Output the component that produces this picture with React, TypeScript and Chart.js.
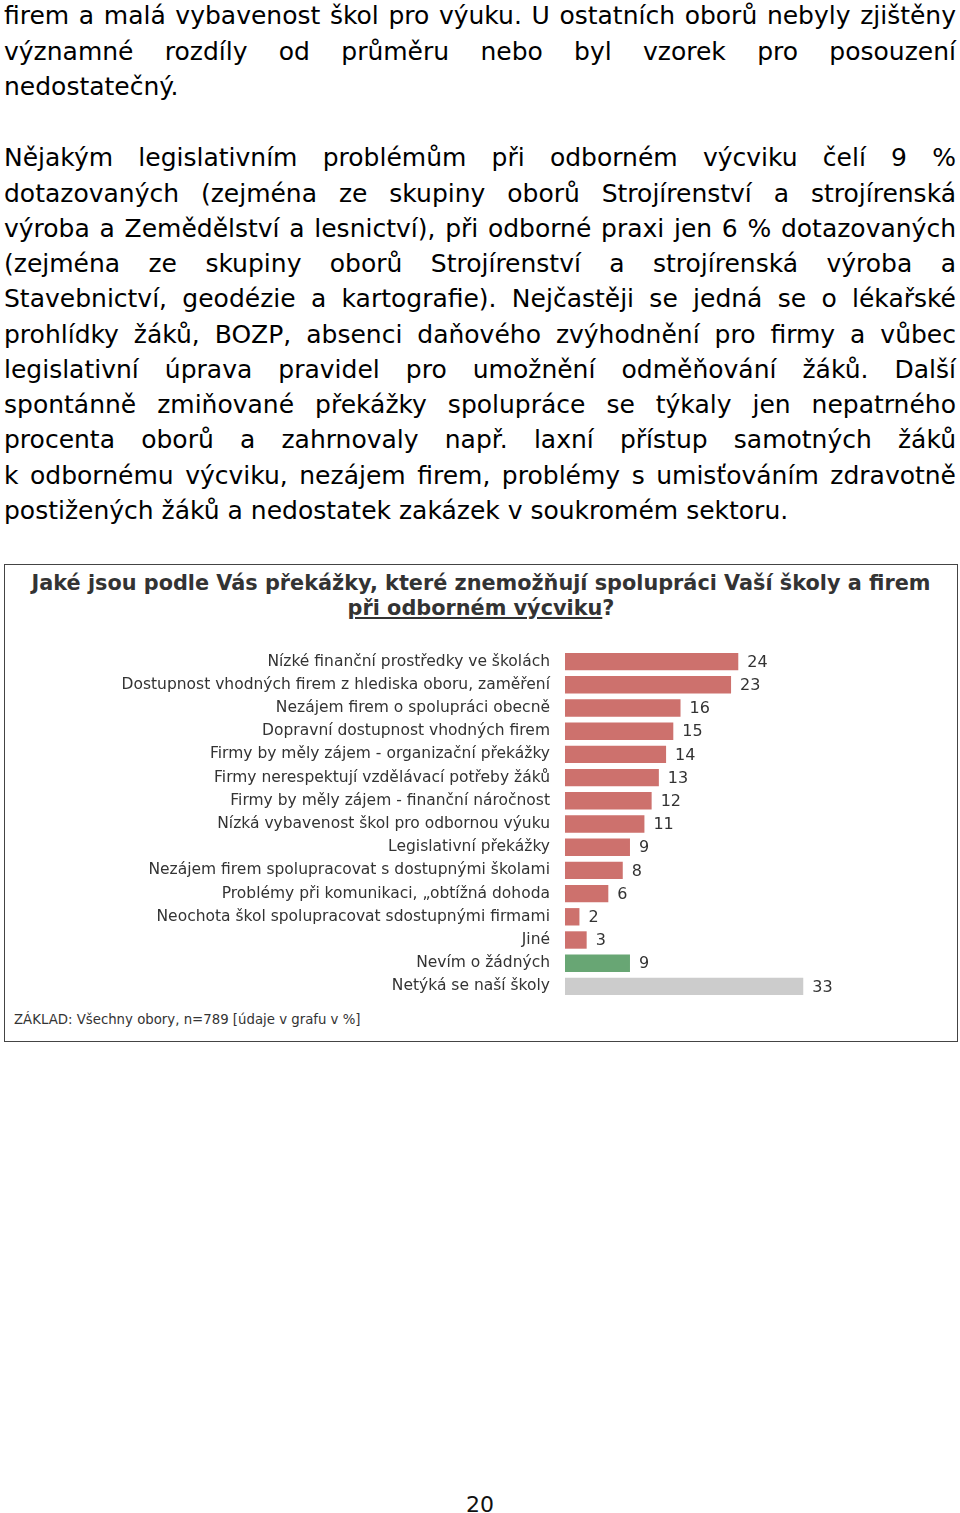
import React, { useEffect, useRef } from "react";
import { Chart, registerables } from "chart.js";

Chart.register(...registerables);

const categories: string[] = [
  "Nízké finanční prostředky ve školách",
  "Dostupnost vhodných firem z hlediska oboru, zaměření",
  "Nezájem firem o spolupráci obecně",
  "Dopravní dostupnost vhodných firem",
  "Firmy by měly zájem - organizační překážky",
  "Firmy nerespektují vzdělávací potřeby žáků",
  "Firmy by měly zájem - finanční náročnost",
  "Nízká vybavenost škol pro odbornou výuku",
  "Legislativní překážky",
  "Nezájem firem spolupracovat s dostupnými školami",
  "Problémy při komunikaci, „obtížná dohoda",
  "Neochota škol spolupracovat sdostupnými firmami",
  "Jiné",
  "Nevím o žádných",
  "Netýká se naší školy",
];

const values: number[] = [24, 23, 16, 15, 14, 13, 12, 11, 9, 8, 6, 2, 3, 9, 33];

const barKinds: string[] = [
  "red", "red", "red", "red", "red", "red", "red", "red",
  "red", "red", "red", "red", "red", "green", "grey",
];

const kindColors: Record<string, string> = {
  red: "#CD716D",
  green: "#68A674",
  grey: "#CCCCCC",
};

const introLines: string[] = [
  "firem a malá vybavenost škol pro výuku. U ostatních oborů nebyly zjištěny",
  "významné rozdíly od průměru nebo byl vzorek pro posouzení",
  "nedostatečný.",
];

const paragraphLines: string[] = [
  "Nějakým legislativním problémům při odborném výcviku čelí 9 %",
  "dotazovaných (zejména ze skupiny oborů Strojírenství a strojírenská",
  "výroba a Zemědělství a lesnictví), při odborné praxi jen 6 % dotazovaných",
  "(zejména ze skupiny oborů Strojírenství a strojírenská výroba a",
  "Stavebnictví, geodézie a kartografie). Nejčastěji se jedná se o lékařské",
  "prohlídky žáků, BOZP, absenci daňového zvýhodnění pro firmy a vůbec",
  "legislativní úprava pravidel pro umožnění odměňování žáků. Další",
  "spontánně zmiňované překážky spolupráce se týkaly jen nepatrného",
  "procenta oborů a zahrnovaly např. laxní přístup samotných žáků",
  "k odbornému výcviku, nezájem firem, problémy s umisťováním zdravotně",
  "postižených žáků a nedostatek zakázek v soukromém sektoru.",
];

const FONT = "'DejaVu Sans', Verdana, sans-serif";

const valueLabelPlugin = {
  id: "valueLabels",
  afterDatasetsDraw(chart: any) {
    const ctx = chart.ctx;
    const meta = chart.getDatasetMeta(0);
    ctx.save();
    ctx.font = `16px ${FONT}`;
    ctx.fillStyle = "#333333";
    ctx.textAlign = "left";
    ctx.textBaseline = "middle";
    meta.data.forEach((bar: any, i: number) => {
      ctx.fillText(String(values[i]), bar.x + 9, bar.y + 1);
    });
    ctx.restore();
  },
};

function BarChart() {
  const ref = useRef<HTMLCanvasElement | null>(null);
  useEffect(() => {
    if (!ref.current) return;
    const chart = new Chart(ref.current, {
      type: "bar",
      data: {
        labels: categories,
        datasets: [
          {
            data: values,
            backgroundColor: barKinds.map((k) => kindColors[k]),
            borderWidth: 0,
            barPercentage: 0.75,
            categoryPercentage: 1,
          },
        ],
      },
      options: {
        indexAxis: "y",
        animation: false,
        responsive: false,
        maintainAspectRatio: false,
        layout: { padding: 0 },
        plugins: {
          legend: { display: false },
          tooltip: { enabled: false },
        },
        scales: {
          x: {
            display: false,
            min: 0,
            max: 50,
          },
          y: {
            grid: { display: false, drawTicks: false },
            border: { display: false },
            ticks: {
              color: "#333333",
              font: { family: FONT, size: 15.5 },
              padding: 15,
              autoSkip: false,
            },
            afterFit: (s: any) => {
              s.width = 555;
              s.paddingTop = 0;
              s.paddingBottom = 0;
            },
          },
        },
      },
      plugins: [valueLabelPlugin],
    });
    return () => chart.destroy();
  }, []);
  return (
    <canvas
      ref={ref}
      width={916}
      height={348}
      style={{ position: "absolute", left: 10, top: 650, width: 916, height: 348 }}
    />
  );
}

const LH = 35.25;

function TextLine({ text, top, last }: { text: string; top: number; last: boolean }) {
  return (
    <div
      style={{
        position: "absolute",
        left: 4,
        width: 952,
        top,
        height: LH,
        lineHeight: `${LH}px`,
        fontFamily: FONT,
        fontSize: 25,
        color: "#000",
        whiteSpace: "nowrap",
        textAlign: "justify",
        textAlignLast: last ? "left" : "justify",
      }}
    >
      {text}
    </div>
  );
}

export default function App() {
  const firstTop = 16 - LH / 2;
  const paraTop = 158 - LH / 2;
  return (
    <div style={{ position: "absolute", left: 0, top: 0, width: 960, height: 1513, background: "#fff", overflow: "hidden" }}>
      {introLines.map((t, i) => (
        <TextLine key={"a" + i} text={t} top={firstTop + i * LH} last={i === introLines.length - 1} />
      ))}
      {paragraphLines.map((t, i) => (
        <TextLine key={"b" + i} text={t} top={paraTop + i * LH} last={i === paragraphLines.length - 1} />
      ))}
      <div
        style={{
          position: "absolute",
          left: 4,
          top: 564,
          width: 954,
          height: 478,
          border: "1.5px solid #444",
          boxSizing: "border-box",
        }}
      />
      <div
        style={{
          position: "absolute",
          left: 4,
          width: 954,
          top: 571,
          textAlign: "center",
          fontFamily: FONT,
          fontWeight: "bold",
          fontSize: 20.8,
          lineHeight: "25px",
          color: "#333",
        }}
      >
        Jaké jsou podle Vás překážky, které znemožňují spolupráci Vaší školy a firem
        <br />
        <span style={{ textDecoration: "underline" }}>při odborném výcviku</span>?
      </div>
      <BarChart />
      <div
        style={{
          position: "absolute",
          left: 14,
          top: 1012,
          fontFamily: FONT,
          fontSize: 13.3,
          color: "#333",
        }}
      >
        ZÁKLAD: Všechny obory, n=789 [údaje v grafu v %]
      </div>
      <div
        style={{
          position: "absolute",
          left: 0,
          width: 960,
          top: 1492,
          textAlign: "center",
          fontFamily: FONT,
          fontSize: 22,
          color: "#111",
        }}
      >
        20
      </div>
    </div>
  );
}
